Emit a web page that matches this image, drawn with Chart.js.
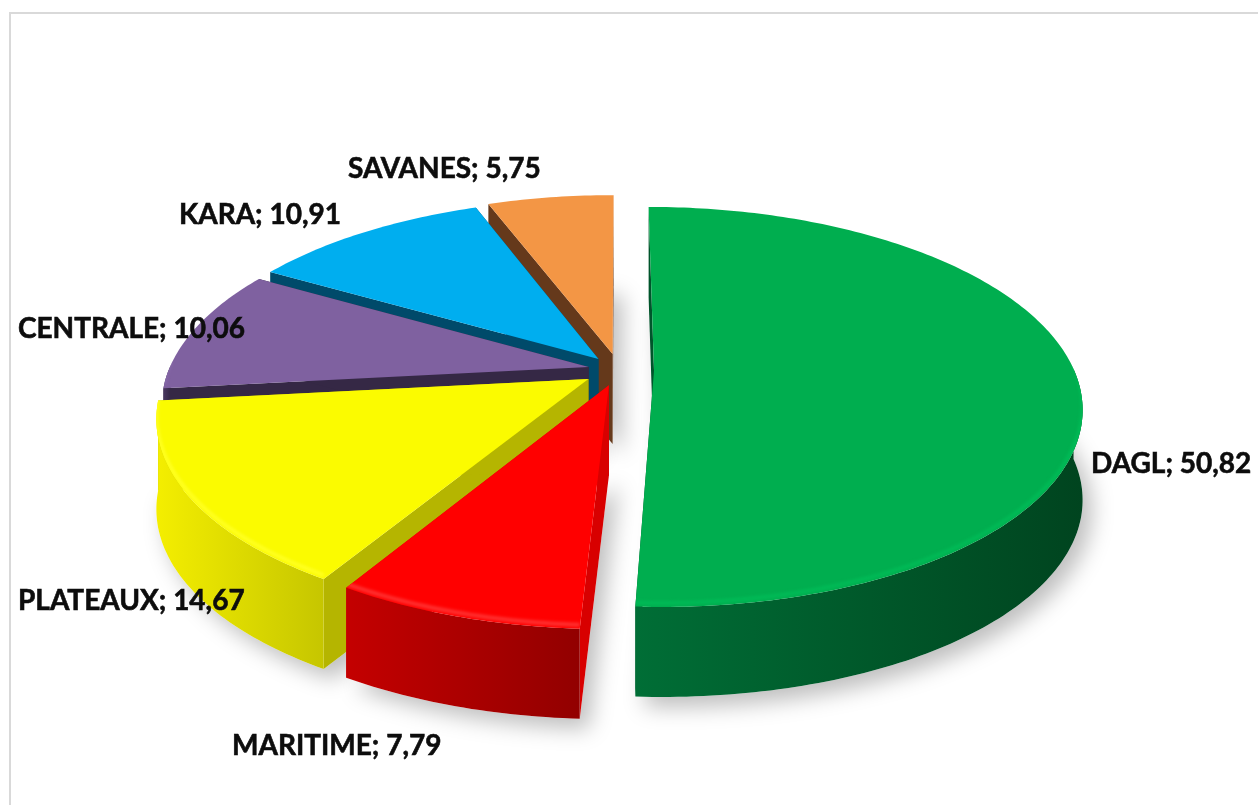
<!DOCTYPE html>
<html>
<head>
<meta charset="utf-8">
<title>Pie 3D</title>
<script src="https://cdn.jsdelivr.net/npm/chart.js"></script>
<style>
  html, body { margin: 0; padding: 0; background: #fff; overflow: hidden; }
  #frame { position: absolute; left: 9px; top: 12px; width: 1400px; height: 1000px; border: 2px solid #d9d9d9; }
  #myChart { position: absolute; left: 0; top: 0; }
</style>
</head>
<body>
<div id="frame"></div>
<canvas id="myChart" width="1258" height="805"></canvas>
<script>
const regions = ['DAGL', 'MARITIME', 'PLATEAUX', 'CENTRALE', 'KARA', 'SAVANES'];
const shares = [50.82, 7.79, 14.67, 10.06, 10.91, 5.75];

const topColors = ['#00AE4F', '#FF0000', '#FBFB00', '#7F61A0', '#00AEEF', '#F39645'];
const rimColors = ['#00BA56', '#FF3030', '#FFFF20', '#8A6CAC', '#10B8F4', '#F7A060'];
const cutColors = ['#00552B', '#D80000', '#B5B500', '#352845', '#004A6A', '#65391B'];
const wallLeft = ['#006E36', '#C40000', '#F4EE00', '#4A3860', '#005A78', '#7A4520'];
const wallRight = ['#00441F', '#920000', '#C6C600', '#352845', '#004A6A', '#65391B'];
const explode = [35, 34, 36, 31, 32, 36];

// label anchors, left edge and baseline
const labelX = [1091, 232, 18, 18, 179, 348];
const labelY = [473, 755, 610, 338, 224, 178];

// projection of the flat pie
const tilt = 0.46;
const camera = 2300;
const depth = 90;

function project(arc, u, v, h) {
  const f = camera / (camera - v);
  return [arc.x + u * f, arc.y + v * tilt * f + h];
}

function rimPoints(arc, h) {
  const off = arc.options.offset || 0;
  const mid = (arc.startAngle + arc.endAngle) / 2;
  const dx = Math.cos(mid) * off, dy = Math.sin(mid) * off;
  const r = arc.outerRadius;
  const pts = [];
  const n = Math.max(8, Math.ceil((arc.endAngle - arc.startAngle) * 60));
  for (let i = 0; i <= n; i++) {
    const t = arc.startAngle + (arc.endAngle - arc.startAngle) * i / n;
    pts.push({ t, p: project(arc, dx + Math.cos(t) * r, dy + Math.sin(t) * r, h) });
  }
  return { pts, apex: project(arc, dx, dy, h) };
}

function poly(ctx, list) {
  ctx.beginPath();
  list.forEach((p, i) => i ? ctx.lineTo(p[0], p[1]) : ctx.moveTo(p[0], p[1]));
  ctx.closePath();
}

const pie3d = {
  id: 'pie3d',
  beforeDatasetsDraw(chart) {
    const ctx = chart.ctx;
    const arcs = chart.getDatasetMeta(0).data;
    const order = arcs.map((a, i) => i).sort((a, b) => {
      const m = k => Math.sin((arcs[k].startAngle + arcs[k].endAngle) / 2);
      return m(a) - m(b);
    });

    // soft shadow under everything
    ctx.save();
    ctx.shadowColor = 'rgba(0,0,0,0.26)';
    ctx.shadowBlur = 22;
    ctx.shadowOffsetX = 9;
    ctx.shadowOffsetY = 10;
    ctx.fillStyle = '#fff';
    order.forEach(i => {
      const a = rimPoints(arcs[i], depth);
      poly(ctx, [a.apex].concat(a.pts.map(q => q.p)));
      ctx.fill();
    });
    ctx.restore();

    order.forEach(i => {
      const arc = arcs[i];
      const top = rimPoints(arc, 0);
      const low = rimPoints(arc, depth);
      const topPts = top.pts.map(q => q.p);
      const lowPts = low.pts.map(q => q.p);
      const last = topPts.length - 1;

      // the two cut faces
      ctx.fillStyle = cutColors[i];
      poly(ctx, [top.apex, topPts[0], lowPts[0], low.apex]);
      ctx.fill();
      poly(ctx, [top.apex, topPts[last], lowPts[last], low.apex]);
      ctx.fill();

      // outer wall, front half only
      const front = top.pts.map((q, k) => k).filter(k => Math.sin(top.pts[k].t) > -0.02);
      if (front.length > 1) {
        const xs = front.map(k => topPts[k][0]);
        const g = ctx.createLinearGradient(Math.min(...xs), 0, Math.max(...xs), 0);
        g.addColorStop(0, wallLeft[i]);
        g.addColorStop(1, wallRight[i]);
        ctx.fillStyle = g;
        poly(ctx, front.map(k => topPts[k]).concat(front.slice().reverse().map(k => lowPts[k])));
        ctx.fill();
      }

      // top face
      ctx.fillStyle = arc.options.backgroundColor;
      poly(ctx, [top.apex].concat(topPts));
      ctx.fill();

      // bevel along the front rim, kept inside the top face
      if (front.length > 1) {
        ctx.save();
        poly(ctx, [top.apex].concat(topPts));
        ctx.clip();
        ctx.filter = 'blur(1.5px)';
        ctx.strokeStyle = rimColors[i];
        ctx.lineWidth = 4;
        ctx.beginPath();
        front.forEach((k, j) => j ? ctx.lineTo(topPts[k][0], topPts[k][1] - 4) : ctx.moveTo(topPts[k][0], topPts[k][1] - 4));
        ctx.stroke();
        ctx.restore();
      }
    });
    return false;
  },
  afterDraw(chart) {
    const ctx = chart.ctx;
    ctx.save();
    ctx.font = 'bold 28px Lato';
    ctx.fillStyle = '#0D0D0D';
    ctx.strokeStyle = '#0D0D0D';
    ctx.lineWidth = 0.6;
    ctx.textBaseline = 'alphabetic';
    regions.forEach((name, i) => {
      const txt = name + '; ' + shares[i].toFixed(2).replace('.', ',');
      ctx.fillText(txt, labelX[i], labelY[i]);
      ctx.strokeText(txt, labelX[i], labelY[i]);
    });
    ctx.restore();
  }
};

const myChart = new Chart(document.getElementById('myChart'), {
  type: 'pie',
  data: {
    labels: regions,
    datasets: [{
      data: shares,
      backgroundColor: topColors,
      offset: explode,
      borderWidth: 0,
      radius: 420
    }]
  },
  options: {
    responsive: false,
    animation: false,
    devicePixelRatio: 1,
    layout: { padding: { right: 20, bottom: 65 } },
    plugins: { legend: { display: false }, tooltip: { enabled: false } }
  },
  plugins: [pie3d]
});
</script>
</body>
</html>
